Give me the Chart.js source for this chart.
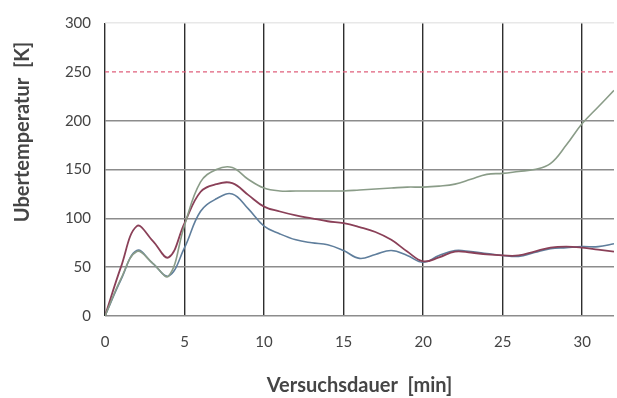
<!DOCTYPE html>
<html>
<head>
<meta charset="utf-8">
<script src="https://cdn.jsdelivr.net/npm/chart.js@4"></script>
<style>
  html, body { margin: 0; padding: 0; background: #fff; }
  #wrap { width: 617px; height: 398px; }
</style>
</head>
<body>
<div id="wrap"><canvas id="grafico"></canvas></div>
<script>
// Zeitpunkte [min]
const zeit = [0, 1, 2, 3, 4, 5, 6, 7, 8, 9, 10, 11, 12, 13, 14, 15, 16, 17, 18, 19, 20, 21, 22, 23, 24, 25, 26, 27, 28, 29, 30, 31, 32];

// Messreihen Übertemperatur [K]
const kurveGruen = [0, 38, 66, 54, 41, 93, 137, 150, 152, 140, 131, 128, 128, 128, 128, 128, 129, 130, 131, 132, 132, 133, 135, 140, 145, 146, 148, 150, 156, 175, 197, 214, 231];
const kurveRot   = [0, 50, 92, 77, 60, 95, 127, 135, 136, 124, 112, 107, 103, 100, 97, 95, 91, 86, 78, 66, 56, 60, 66, 65, 63, 62, 62, 66, 70, 71, 70, 68, 66];
const kurveBlau  = [0, 37, 67, 54, 41, 70, 107, 120, 125, 110, 92, 84, 78, 75, 73, 67, 59, 63, 67, 62, 55, 62, 67, 66, 64, 62, 61, 65, 69, 70, 71, 71, 74];

// Grenzwert
const grenzwert = 250;

const yTicks = [0, 50, 100, 150, 200, 250, 300];
const xTicks = [0, 5, 10, 15, 20, 25, 30];

const yTitel = 'Ubertemperatur  [K]';
const xTitel = 'Versuchsdauer  [min]';

const punkte = arr => zeit.map((t, i) => ({ x: t, y: arr[i] }));

// y-Achsentitel etwas oberhalb der Mitte, wie im Original
const yTitelPlugin = {
    id: 'yTitel',
    afterDraw(chart) {
        const c = chart.ctx;
        c.save();
        c.translate(23, 132);
        c.rotate(-Math.PI / 2);
        c.font = 'bold 20px Lato';
        c.fillStyle = '#454545';
        c.textAlign = 'center';
        c.textBaseline = 'middle';
        c.fillText(yTitel, 0, 0);
        c.restore();
    }
};

const ctx = document.getElementById('grafico').getContext('2d');
new Chart(ctx, {
    type: 'line',
    data: {
        datasets: [
            {
                label: 'Grenzwert',
                data: [{ x: 0, y: grenzwert }, { x: 32, y: grenzwert }],
                borderColor: '#e0607c',
                borderWidth: 1.2,
                borderDash: [4, 3],
                pointRadius: 0
            },
            {
                label: 'Grün',
                data: punkte(kurveGruen),
                borderColor: '#8a9c88',
                borderWidth: 1.6,
                pointRadius: 0,
                tension: 0.4
            },
            {
                label: 'Rot',
                data: punkte(kurveRot),
                borderColor: '#8a4058',
                borderWidth: 1.8,
                pointRadius: 0,
                tension: 0.4
            },
            {
                label: 'Blau',
                data: punkte(kurveBlau),
                borderColor: '#5f7e9c',
                borderWidth: 1.6,
                pointRadius: 0,
                tension: 0.4
            }
        ]
    },
    options: {
        responsive: true,
        maintainAspectRatio: false,
        animation: false,
        layout: { padding: { top: 19, right: 3, left: 0, bottom: 0 } },
        plugins: {
            legend: { display: false },
            tooltip: { enabled: false }
        },
        scales: {
            x: {
                type: 'linear',
                min: 0,
                max: 32,
                afterBuildTicks: s => { s.ticks = xTicks.map(v => ({ value: v })); },
                afterFit: s => { s.height = 82; },
                grid: {
                    color: '#2e2e2e',
                    lineWidth: 1.4,
                    drawTicks: false
                },
                border: { display: false },
                ticks: {
                    padding: 17,
                    color: '#444',
                    font: { family: 'Lato', size: 15 }
                },
                title: {
                    display: true,
                    text: xTitel,
                    color: '#454545',
                    font: { family: 'Lato', size: 20, weight: 'bold' },
                    padding: { top: 0, bottom: 0 }
                }
            },
            y: {
                min: 0,
                max: 300,
                afterBuildTicks: s => { s.ticks = yTicks.map(v => ({ value: v })); },
                afterFit: s => { s.width = 105; },
                grid: {
                    color: c => c.tick.value === 250 ? 'rgba(0,0,0,0)' : (c.tick.value === 300 ? '#e8e8e8' : '#8c8c8c'),
                    lineWidth: 1.4,
                    drawTicks: false
                },
                border: { display: false },
                ticks: {
                    padding: 14,
                    color: '#444',
                    font: { family: 'Lato', size: 15 }
                }
            }
        }
    },
    plugins: [yTitelPlugin]
});
</script>
</body>
</html>
